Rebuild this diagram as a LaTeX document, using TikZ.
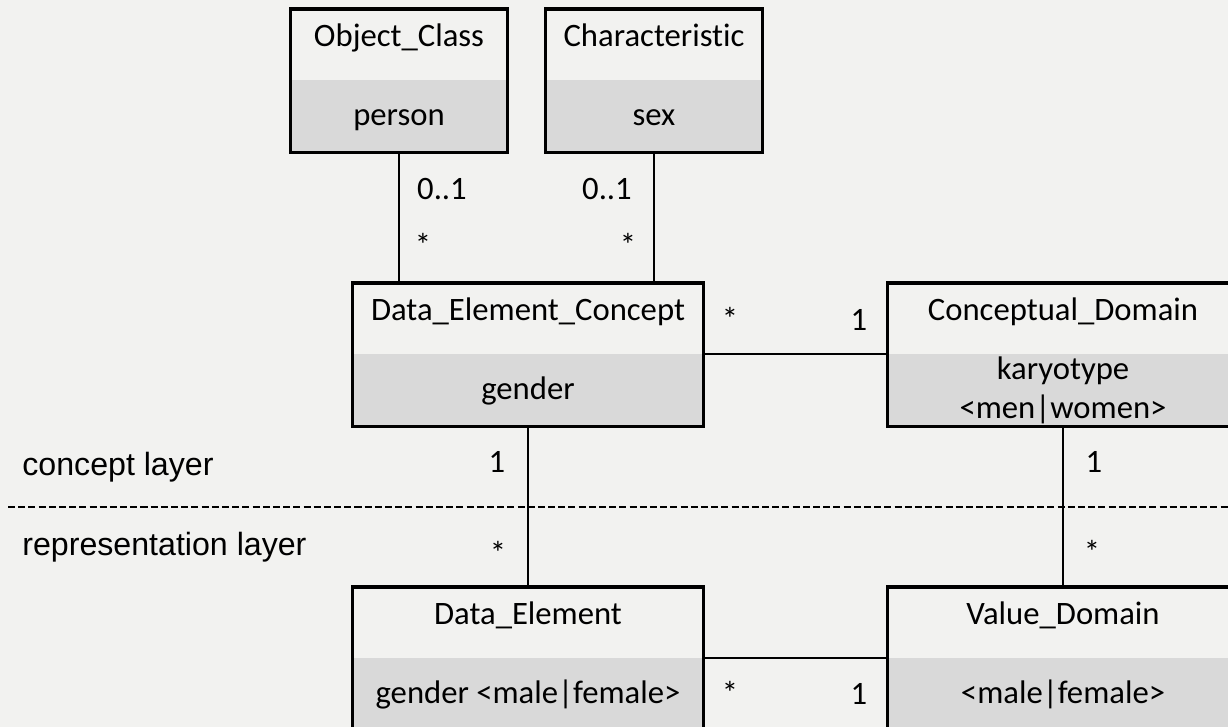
\documentclass[tikz,border=0pt]{standalone}
\usepackage{fontspec}
\setmainfont{Carlito}[Ligatures=NoCommon]
\newfontfamily\layerfont{Liberation Sans}
\usepackage{xcolor}
\usepackage{tikz}
\usetikzlibrary{positioning}
\definecolor{bgcol}{HTML}{F2F2F0}
\definecolor{attrcol}{HTML}{D9D9D9}
\tikzset{
  cls/.style={inner sep=0pt, minimum height=1.4cm, text height=0.74cm, text depth=0.66cm},
  attr/.style={fill=attrcol, inner sep=0pt, minimum height=1.44cm, text height=0.9cm, text depth=0.54cm},
  attrtwo/.style={fill=attrcol, inner sep=0pt, minimum height=1.44cm, align=center},
  small/.style={minimum width=4.32cm},
  wide/.style={minimum width=7cm},
  frame/.style={line width=1.8pt},
  assoc/.style={line width=1.2pt},
  mult/.style={anchor=base, inner sep=0pt},
  layer/.style={anchor=base west, inner sep=0pt, font=\layerfont\fontsize{18.3pt}{22pt}\selectfont},
}

\begin{document}
\begin{tikzpicture}[x=0.02cm, y=-0.02cm, node distance=0pt, font=\fontsize{18.6pt}{22.1pt}\selectfont]
  \useasboundingbox (0,0) rectangle (1228,727);
  \clip (0,0) rectangle (1228,727);
  \fill[bgcol] (0,0) rectangle (1228,727);

  \node[cls, small, anchor=north] (oc) at (399,9) {Object\_Class};
  \node[attr, small, below=of oc] (oc-a) {person};
  \node[cls, small, anchor=north] (ch) at (654,9) {Characteristic};
  \node[attr, small, below=of ch] (ch-a) {sex};
  \node[cls, wide, anchor=north] (dec) at (528,283) {Data\_Element\_Concept};
  \node[attr, wide, below=of dec] (dec-a) {gender};
  \node[cls, wide, anchor=north] (cd) at (1063,283) {Conceptual\_Domain};
  \node[attrtwo, wide, below=of cd] (cd-a) {karyotype\\<men|women>};
  \node[cls, wide, anchor=north] (de) at (528,587) {Data\_Element};
  \node[attr, wide, below=of de] (de-a) {gender <male|female>};
  \node[cls, wide, anchor=north] (vd) at (1063,587) {Value\_Domain};
  \node[attr, wide, below=of vd] (vd-a) {<male|female>};

  \draw[assoc] (oc-a.south) -- (oc-a.south |- dec.north);
  \draw[assoc] (ch-a.south) -- (ch-a.south |- dec.north);
  \draw[assoc] (dec.south east) -- (cd.south west);
  \draw[assoc] (dec-a.south) -- (de.north);
  \draw[assoc] (cd-a.south) -- (vd.north);
  \draw[assoc] (de.south east) -- (vd.south west);

  \foreach \c in {oc,ch,dec,cd,de,vd}
    \draw[frame] (\c.north west) rectangle (\c-a.south east);

  \foreach \n/\x/\y/\t in {oc0/442/199/{0..1}, ocs/423/256/{*}, ch0/607/199/{0..1}, chs/628/256/{*},
      decs/730/330/{*}, cd1/859/330/{1}, dec1/497/472/{1}, des/498/564/{*},
      cdv1/1094/472/{1}, vds/1092/563/{*}, dev/730/704/{*}, vd1/859/704/{1}}
    \node[mult] (\n) at (\x,\y) {\t};

  \coordinate (sepL) at (8,507);
  \coordinate (sepR) at (1228,507);
  \draw[line width=1.1pt, dash pattern=on 4pt off 1.8pt] (sepL) -- (sepR);
  \node[layer] (concept) at (22,475) {concept layer};
  \node[layer] (repr) at (22,555) {representation layer};
\end{tikzpicture}
\end{document}
